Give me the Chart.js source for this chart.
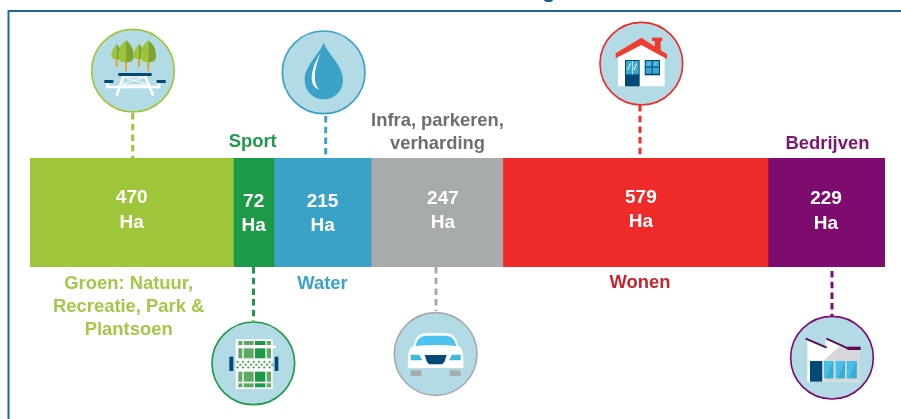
<!DOCTYPE html>
<html>
<head>
<meta charset="utf-8">
<script src="https://cdnjs.cloudflare.com/ajax/libs/Chart.js/4.4.1/chart.umd.min.js"></script>
<style>
  html, body { margin: 0; padding: 0; background: #fff; overflow: hidden; }
  canvas { display: block; }
</style>
</head>
<body>
<canvas id="chart-land-use" width="901" height="419"></canvas>
<script>
// ── DATA ──
const categories = ['Groen', 'Sport', 'Water', 'Infra', 'Wonen', 'Bedrijven'];
// printed on the bars
const hectares = [470, 72, 215, 247, 579, 229];
// the picture's bars are not to scale with the printed Ha, so these are the lengths as drawn
const drawnLengths = [431, 86, 206, 279, 562, 248];
const unitLabel = 'Ha';
const groenNames = ['Groen: Natuur,', 'Recreatie, Park &', 'Plantsoen'];
const sportNames = ['Sport'];
const waterNames = ['Water'];
const infraNames = ['Infra, parkeren,', 'verharding'];
const wonenNames = ['Wonen'];
const bedrijvenNames = ['Bedrijven'];

// ── COLOURS ──
const barColors = ['#9fc63b', '#1d9a48', '#3ba2c7', '#a7abab', '#ee2b28', '#7e0c6e'];
const nameColors = ['#a5c748', '#1f9a4a', '#3ba2c8', '#6d6e71', '#c1272d', '#7e1470'];
const dotColors = ['#9fc63b', '#1d9a48', '#3ba2c7', '#a7abab', '#ee2b28', '#7e0c6e'];
const iconBg = '#b3dbe6';
const navy = '#004a75';

const FONT = '"Liberation Sans", Arial, sans-serif';

// ── ANNOTATION LAYOUT (value dx from bar centre, y of lines) ──
const annotations = [
  { valueDx: 0,   valueY: 198, unitY: 223, names: groenNames, nameDx: -3,  nameY: 284 },
  { valueDx: 0,   valueY: 202, unitY: 226, names: sportNames, nameDx: -1,  nameY: 142 },
  { valueDx: 0,   valueY: 202, unitY: 226, names: waterNames, nameDx: 0,   nameY: 284 },
  { valueDx: 6,   valueY: 199, unitY: 223, names: infraNames, nameDx: 0.5, nameY: 121 },
  { valueDx: 5.5, valueY: 198, unitY: 222, names: wonenNames, nameDx: 4.5, nameY: 283 },
  { valueDx: -0.5, valueY: 199, unitY: 224, names: bedrijvenNames, nameDx: 1, nameY: 144 },
];
const leaders = [
  { x: 132.7, y1: 113, y2: 158 },
  { x: 253.5, y1: 267, y2: 321 },
  { x: 325.7, y1: 116, y2: 155 },
  { x: 436,   y1: 267, y2: 311 },
  { x: 640,   y1: 105, y2: 158 },
  { x: 832,   y1: 271, y2: 317 },
];

// ── ICONS (drawn in a 3x box so they line up with the crops) ──
function badge(ctx, ox, oy, cx, cy, ring, draw) {
  ctx.save();
  ctx.translate(ox, oy);
  ctx.scale(1 / 3, 1 / 3);
  ctx.beginPath();
  ctx.arc(cx, cy, 124, 0, Math.PI * 2);
  ctx.fillStyle = iconBg;
  ctx.fill();
  ctx.lineWidth = 5;
  ctx.strokeStyle = ring;
  ctx.stroke();
  draw(ctx);
  ctx.restore();
}

function poly(ctx, color, pts) {
  ctx.beginPath();
  pts.forEach((p, i) => i ? ctx.lineTo(p[0], p[1]) : ctx.moveTo(p[0], p[1]));
  ctx.closePath();
  ctx.fillStyle = color;
  ctx.fill();
}

function rect(ctx, color, x1, y1, x2, y2) {
  ctx.fillStyle = color;
  ctx.fillRect(x1, y1, x2 - x1, y2 - y1);
}

function seg(ctx, color, w, pts) {
  ctx.beginPath();
  pts.forEach((p, i) => i ? ctx.lineTo(p[0], p[1]) : ctx.moveTo(p[0], p[1]));
  ctx.lineWidth = w;
  ctx.strokeStyle = color;
  ctx.stroke();
}

function tree(ctx, x, top, bottom, hw, trunkEnd) {
  rect(ctx, '#e3a81f', x - 3, bottom - 12, x + 3, trunkEnd);
  const half = (sign, color) => {
    ctx.beginPath();
    ctx.moveTo(x, top);
    ctx.bezierCurveTo(x + sign * hw * 0.6, top + 12, x + sign * hw, top + 22, x + sign * hw, bottom - hw * 0.7);
    ctx.bezierCurveTo(x + sign * hw, bottom - 4, x + sign * hw * 0.5, bottom, x, bottom);
    ctx.closePath();
    ctx.fillStyle = color;
    ctx.fill();
  };
  half(-1, '#9dc43a');
  half(1, '#7ea42f');
}

function picnicIcon(ctx) {
  tree(ctx, 95, 65, 112, 16, 135);
  tree(ctx, 162, 65, 112, 16, 135);
  tree(ctx, 123, 55, 121, 23, 148);
  tree(ctx, 190, 55, 121, 23, 148);
  seg(ctx, '#fff', 8, [[115, 163], [95, 221]]);
  seg(ctx, '#fff', 8, [[180, 163], [205, 221]]);
  seg(ctx, '#fff', 3, [[115, 165], [180, 185]]);
  seg(ctx, '#fff', 3, [[180, 165], [115, 185]]);
  seg(ctx, '#fff', 3, [[115, 165], [180, 165]]);
  rect(ctx, '#e6f3f7', 100, 186, 190, 192);
  seg(ctx, '#fff', 8, [[68, 182], [68, 195], [222, 195], [222, 182]]);
  rect(ctx, navy, 100, 153, 200, 162);
  rect(ctx, navy, 58, 174, 85, 183);
  rect(ctx, navy, 215, 174, 242, 183);
}

function dropIcon(ctx) {
  ctx.beginPath();
  ctx.moveTo(971, 128);
  ctx.bezierCurveTo(985, 165, 1029, 195, 1029, 240);
  ctx.bezierCurveTo(1029, 275, 1002, 298, 971, 298);
  ctx.bezierCurveTo(940, 298, 914, 275, 914, 240);
  ctx.bezierCurveTo(914, 195, 957, 165, 971, 128);
  ctx.closePath();
  ctx.fillStyle = '#3ba2c7';
  ctx.fill();
  ctx.beginPath();
  ctx.moveTo(962, 158);
  ctx.bezierCurveTo(938, 195, 918, 255, 958, 269);
  ctx.bezierCurveTo(935, 245, 945, 200, 962, 158);
  ctx.closePath();
  ctx.fillStyle = '#fff';
  ctx.fill();
}

function fieldIcon(ctx) {
  const mid = '#5fa866', dark = '#1d9a48';
  rect(ctx, '#fff', 92, 73, 203, 222);
  [[78, 90], [100, 130], [170, 200], [205, 217]].forEach(r => {
    rect(ctx, mid, 100, r[0], 112, r[1]);
    rect(ctx, mid, 116, r[0], 146, r[1]);
    rect(ctx, dark, 150, r[0], 181, r[1]);
    rect(ctx, mid, 185, r[0], 198, r[1]);
  });
  rect(ctx, '#fff', 100, 92, 213, 99);
  ctx.fillStyle = mid;
  for (let row = 0; row < 3; row++) {
    for (let col = 0; col < 7; col++) {
      ctx.beginPath();
      ctx.arc(98 + col * 16 + (row % 2 ? 8 : 0), 141 + row * 8, 3.5, 0, Math.PI * 2);
      ctx.fill();
    }
  }
  rect(ctx, navy, 73, 125, 85, 168);
  rect(ctx, navy, 209, 125, 220, 168);
}

function carIcon(ctx) {
  rect(ctx, '#a9abad', 68, 187, 100, 204);
  rect(ctx, '#a9abad', 185, 187, 218, 204);
  ctx.beginPath();
  ctx.moveTo(78, 113);
  ctx.bezierCurveTo(83, 85, 93, 75, 120, 75);
  ctx.lineTo(168, 75);
  ctx.bezierCurveTo(194, 75, 204, 85, 210, 113);
  ctx.bezierCurveTo(224, 120, 228, 135, 226, 180);
  ctx.lineTo(60, 180);
  ctx.bezierCurveTo(58, 135, 62, 120, 78, 113);
  ctx.closePath();
  ctx.fillStyle = '#fff';
  ctx.fill();
  ctx.beginPath();
  ctx.moveTo(82, 114);
  ctx.bezierCurveTo(90, 88, 100, 83, 120, 83);
  ctx.lineTo(168, 83);
  ctx.bezierCurveTo(188, 83, 198, 88, 205, 114);
  ctx.quadraticCurveTo(143, 108, 82, 114);
  ctx.closePath();
  ctx.fillStyle = '#4fc3f0';
  ctx.fill();
  poly(ctx, '#3fb8dc', [[68, 140], [94, 140], [103, 157], [68, 157]]);
  poly(ctx, '#3fb8dc', [[218, 140], [192, 140], [183, 157], [218, 157]]);
  poly(ctx, navy, [[110, 141], [176, 141], [170, 160], [163, 169], [123, 169], [116, 160]]);
}

function houseIcon(ctx) {
  poly(ctx, '#fff', [[75, 125], [145, 78], [215, 125], [215, 214], [75, 214]]);
  rect(ctx, '#ee3d2f', 185, 76, 203, 110);
  rect(ctx, '#ee3d2f', 177, 68, 208, 78);
  poly(ctx, '#ee3d2f', [[68, 115], [145, 68], [222, 118], [222, 132], [145, 90], [68, 130]]);
  rect(ctx, navy, 96, 135, 140, 214);
  rect(ctx, '#3aa9d4', 99, 138, 137, 178);
  rect(ctx, '#fff', 117, 138, 119, 178);
  seg(ctx, '#fff', 3, [[104, 165], [112, 145]]);
  seg(ctx, '#fff', 3, [[123, 165], [131, 145]]);
  rect(ctx, navy, 155, 135, 201, 181);
  rect(ctx, '#3aa9d4', 158, 138, 198, 176);
  rect(ctx, navy, 176, 138, 179, 176);
  rect(ctx, navy, 158, 155, 198, 158);
  seg(ctx, '#fff', 2, [[164, 150], [170, 144]]);
  seg(ctx, '#fff', 2, [[184, 150], [190, 144]]);
}

function factoryIcon(ctx) {
  poly(ctx, '#fff', [[70, 90], [125, 113], [125, 88], [190, 115], [228, 115], [228, 215], [70, 215]]);
  poly(ctx, '#d5d7d8', [[118, 153], [168, 108], [190, 115], [228, 115], [228, 215], [118, 215]]);
  seg(ctx, '#5e0b57', 6, [[65, 86], [128, 113]]);
  seg(ctx, '#5e0b57', 6, [[127, 86], [192, 115]]);
  rect(ctx, '#5e0b57', 190, 110, 230, 120);
  rect(ctx, navy, 78, 153, 115, 215);
  [[120, 148], [155, 183], [188, 218]].forEach(w => {
    rect(ctx, '#47bfe6', w[0], 153, w[1], 205);
    poly(ctx, '#3aaed2', [[w[1], 153], [w[1], 205], [w[0] + 6, 205]]);
  });
}

const badges = [
  { ox: 85,  oy: 22,  cx: 144, cy: 146, draw: picnicIcon },
  { ox: 205, oy: 315, cx: 145, cy: 145, draw: fieldIcon },
  { ox: 0,   oy: 0,   cx: 971, cy: 217, draw: dropIcon },
  { ox: 388, oy: 308, cx: 143, cy: 138, draw: carIcon },
  { ox: 593, oy: 15,  cx: 145, cy: 146, draw: houseIcon },
  { ox: 784, oy: 310, cx: 144, cy: 143, draw: factoryIcon },
];

// ── Page frame, clipped title descender ──
const framePlugin = {
  id: 'frame',
  beforeDraw(chart) {
    const ctx = chart.ctx;
    ctx.save();
    ctx.strokeStyle = '#1c6a92';
    ctx.lineWidth = 2;
    ctx.beginPath();
    ctx.moveTo(8.5, 419);
    ctx.lineTo(8.5, 11);
    ctx.lineTo(901, 11);
    ctx.stroke();
    ctx.fillStyle = '#12608c';
    ctx.beginPath();
    ctx.ellipse(548.5, -0.5, 4.5, 2.5, 0, 0, Math.PI * 2);
    ctx.fill();
    ctx.restore();
  }
};

// ── Values, names, leaders, icons ──
const annotationPlugin = {
  id: 'annotations',
  afterDatasetsDraw(chart) {
    const ctx = chart.ctx;
    ctx.save();
    ctx.textAlign = 'center';
    ctx.textBaseline = 'middle';

    leaders.forEach((l, i) => {
      ctx.beginPath();
      ctx.setLineDash([6.5, 4.2]);
      ctx.lineWidth = 3;
      ctx.strokeStyle = dotColors[i];
      ctx.moveTo(l.x, l.y1);
      ctx.lineTo(l.x, l.y2);
      ctx.stroke();
    });
    ctx.setLineDash([]);

    badges.forEach((b, i) => badge(ctx, b.ox, b.oy, b.cx, b.cy, dotColors[i], b.draw));

    categories.forEach((name, i) => {
      const bar = chart.getDatasetMeta(i).data[0];
      const centre = (bar.x + bar.base) / 2;
      const a = annotations[i];

      ctx.fillStyle = '#fff';
      ctx.font = 'bold 19px ' + FONT;
      ctx.fillText(String(hectares[i]), centre + a.valueDx, a.valueY);
      ctx.fillText(unitLabel, centre + a.valueDx, a.unitY);

      ctx.fillStyle = nameColors[i];
      ctx.font = 'bold 18.4px ' + FONT;
      a.names.forEach((line, n) => ctx.fillText(line, centre + a.nameDx, a.nameY + n * 23));
    });
    ctx.restore();
  }
};

new Chart(document.getElementById('chart-land-use'), {
  type: 'bar',
  data: {
    labels: [unitLabel],
    datasets: categories.map((name, i) => ({
      label: name,
      data: [drawnLengths[i]],
      backgroundColor: barColors[i],
      borderWidth: 0,
      barPercentage: 1,
      categoryPercentage: 1,
    }))
  },
  options: {
    indexAxis: 'y',
    responsive: false,
    animation: false,
    layout: { padding: { left: 30, right: 16, top: 158, bottom: 152 } },
    plugins: { legend: { display: false }, tooltip: { enabled: false }, title: { display: false } },
    scales: {
      x: { stacked: true, display: false, min: 0, max: drawnLengths.reduce((a, b) => a + b, 0) },
      y: { stacked: true, display: false }
    }
  },
  plugins: [framePlugin, annotationPlugin]
});
</script>
</body>
</html>
